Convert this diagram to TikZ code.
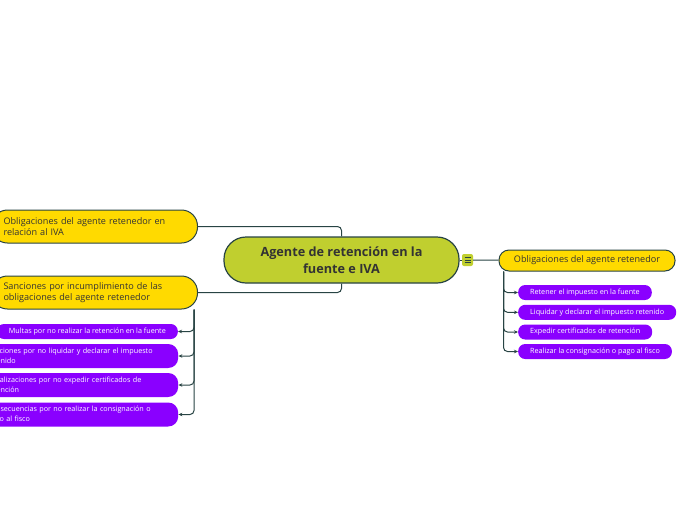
\documentclass[tikz,border=0pt]{standalone}
\usepackage{fontspec}
\setmainfont{Open Sans}
\usetikzlibrary{arrows.meta}
\definecolor{edgec}{RGB}{40,68,68}
\definecolor{limec}{RGB}{192,207,47}
\definecolor{goldc}{RGB}{255,218,0}
\definecolor{violetc}{RGB}{138,0,255}
\definecolor{inkc}{RGB}{51,51,51}
\begin{document}
\begin{tikzpicture}[x=1pt,y=-1pt,
  central/.style={draw=edgec,line width=1.2pt,fill=limec,rounded corners=22pt,minimum width=235pt,minimum height=46pt,align=center,font=\fontsize{12.7}{17.5}\selectfont\bfseries,text=inkc,inner sep=0pt},
  topic/.style={draw=edgec,line width=1pt,fill=goldc,rounded corners=10pt,font=\fontsize{9.1}{11.5}\selectfont,text=inkc,inner xsep=12pt,inner ysep=0pt},
  sub/.style={fill=violetc,rounded corners=7pt,font=\fontsize{7.2}{9.8}\selectfont,text=white,inner xsep=12pt,inner ysep=0pt},
  subwide/.style={sub,anchor=west,minimum height=24pt,text width=183pt,inner xsep=8pt,align=left,rounded corners=10pt},
  conn/.style={draw=edgec,line width=1pt,rounded corners=4pt},
  arr/.style={conn,-{Stealth[length=4pt,width=3.5pt]}}
]
\useasboundingbox (0,0) rectangle (696,520);
\clip (0,0) rectangle (696,520);
\fill[white] (0,0) rectangle (696,520);

\node[central] (root) at (341.5,260) {Agente de retención en la\\fuente e IVA};
\node[fill=limec,rounded corners=2pt,minimum width=11pt,minimum height=12pt,inner sep=0pt] (menu) at (467.5,260) {};
\foreach \dy in {-2.5,0,2.5}
  \draw[edgec,line width=0.7pt] ([shift={(-3,\dy)}]menu.center) -- ++(6,0);

\node[topic,minimum height=21pt,minimum width=176pt] (oblig) at (587,260.5) {Obligaciones del agente retenedor};
\node[topic,anchor=east,minimum height=33pt,text width=182pt,align=left,rounded corners=16pt] (iva) at (198,226.5) {Obligaciones del agente retenedor en\\relación al IVA};
\node[topic,anchor=east,minimum height=33pt,text width=182pt,align=left,rounded corners=16pt] (sanc) at (198,292.5) {Sanciones por incumplimiento de las\\obligaciones del agente retenedor};

\node[sub,anchor=west,minimum height=15pt] (r1) at (518,292.5) {Retener el impuesto en la fuente};
\node[sub,anchor=west,minimum height=15pt] (r2) at (518,312.3) {Liquidar y declarar el impuesto retenido};
\node[sub,anchor=west,minimum height=15pt] (r3) at (518,332) {Expedir certificados de retención};
\node[sub,anchor=west,minimum height=15pt] (r4) at (518,351.5) {Realizar la consignación o pago al fisco};

\node[sub,anchor=east,minimum height=15pt,minimum width=178pt] (l1) at (178,331.5) {Multas por no realizar la retención en la fuente};
\node[subwide] (l2) at (-21,356) {Sanciones por no liquidar y declarar el impuesto\\retenido};
\node[subwide] (l3) at (-21,385) {Penalizaciones por no expedir certificados de\\retención};
\node[subwide] (l4) at (-21,414.5) {Consecuencias por no realizar la consignación o\\pago al fisco};

\draw[conn] (root) -- (menu);
\draw[conn] (menu) -- (oblig);
\draw[conn] (root.north) |- (iva.east);
\draw[conn] (root.south) |- (sanc.east);
\foreach \n in {l1,l2,l3,l4}
  \draw[arr] ([xshift=-4pt]sanc.south east) |- (\n.east);
\foreach \n in {r1,r2,r3,r4}
  \draw[arr] ([xshift=5pt]oblig.south west) |- (\n.west);
\end{tikzpicture}
\end{document}
